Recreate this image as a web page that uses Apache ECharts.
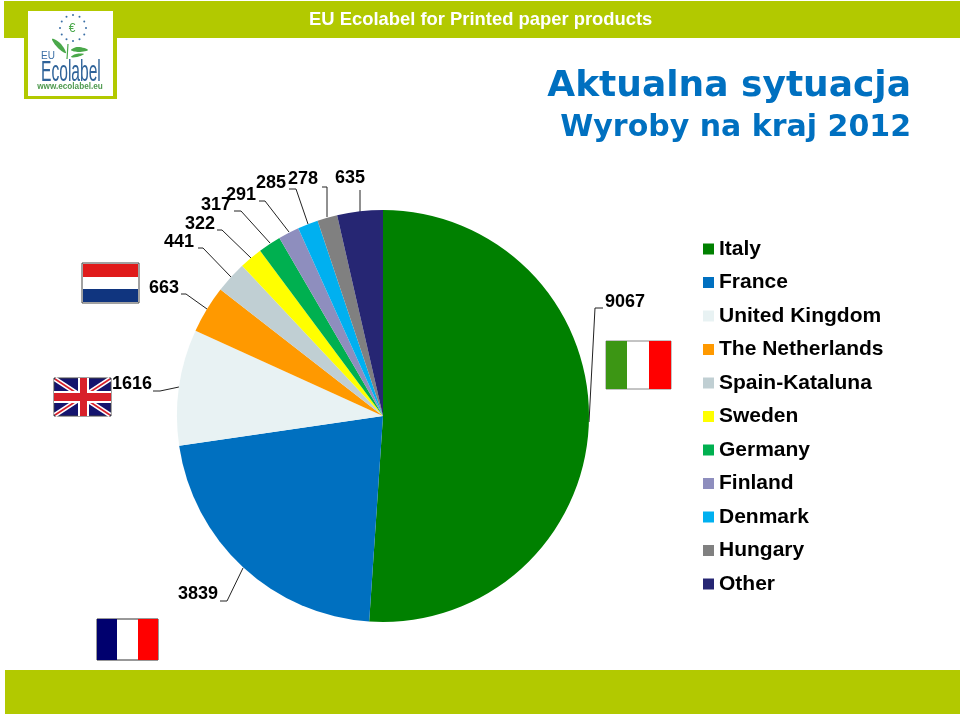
<!DOCTYPE html>
<html>
<head>
<meta charset="utf-8">
<title>Wyroby na kraj 2012</title>
<script src="https://cdn.jsdelivr.net/npm/echarts@6/dist/echarts.min.js"></script>
<style>
  html, body { margin: 0; padding: 0; background: #fff; }
  #chart { width: 960px; height: 716px; }
</style>
</head>
<body>
<div id="chart"></div>
<script>
var countries = ['Italy', 'France', 'United Kingdom', 'The Netherlands', 'Spain-Kataluna', 'Sweden', 'Germany', 'Finland', 'Denmark', 'Hungary', 'Other']
var products = [9067, 3839, 1616, 663, 441, 322, 317, 291, 285, 278, 635]
var sliceColors = ['#008000', '#0070c0', '#e8f2f3', '#ff9900', '#c0cfd3', '#ffff00', '#00b050', '#8e8ebe', '#00b0f0', '#808080', '#262673']

// label centre and leader line for each slice, placed by hand like the original
var labelSpots = [[625, 302], [198, 594], [132, 384], [164, 288], [179, 242], [200, 224], [216, 205], [241, 195], [271, 183], [303, 179], [350, 178]]
var leaders = [
  [[603, 308], [595, 308], [589, 422]],
  [[220, 601], [227, 601], [243, 568]],
  [[153, 391], [160, 391], [179, 387]],
  [[181, 294], [186, 294], [207, 309]],
  [[198, 248], [203, 248], [231, 277]],
  [[217, 230], [222, 230], [251, 258]],
  [[234, 211], [241, 211], [270, 243]],
  [[259, 201], [265, 201], [289, 232]],
  [[289, 189], [296, 189], [308, 224]],
  [[322, 187], [327, 187], [327, 217]],
  [[360, 190], [360, 190], [360, 212]]
]

var BAND = '#b2c900'
var FONT = '"Liberation Sans", Arial, sans-serif'

function box(x, y, w, h, fill, stroke) {
  return { type: 'rect', shape: { x: x, y: y, width: w, height: h }, style: { fill: fill, stroke: stroke || null, lineWidth: stroke ? 1 : 0 } }
}
function label(x, y, text, font, fill, align) {
  return { type: 'text', x: x, y: y, style: { text: text, font: font, fill: fill, align: align || 'left', verticalAlign: 'middle' } }
}
function line(x1, y1, x2, y2, color, w) {
  return { type: 'line', shape: { x1: x1, y1: y1, x2: x2, y2: y2 }, style: { stroke: color, lineWidth: w } }
}
function leaf(points) {
  return { type: 'polygon', shape: { points: points, smooth: 0.4 }, style: { fill: '#4aa84a' } }
}

function drawLogo() {
  var items = [
    box(24, 9, 93, 90, BAND),
    box(28, 11, 85, 85, '#fff')
  ]
  for (var i = 0; i < 12; i++) {
    var a = i * Math.PI / 6
    items.push({ type: 'circle', shape: { cx: 73 + 13 * Math.cos(a), cy: 28 + 13 * Math.sin(a), r: 1 }, style: { fill: '#3a6ea5' } })
  }
  items.push(label(72, 29, '€', '12px ' + FONT, '#4aa84a', 'center'))
  items.push(leaf([[52, 39], [60, 43], [66, 53], [58, 48]]))
  items.push(leaf([[71, 50], [78, 47], [88, 50], [79, 52]]))
  items.push(leaf([[71, 57], [76, 54], [84, 54], [77, 57]]))
  items.push(line(68, 44, 67, 59, '#4aa84a', 1.2))
  items.push(label(41, 56, 'EU', '10px ' + FONT, '#3a6ea5'))
  items.push({ type: 'text', x: 41, y: 73, scaleX: 0.52, style: { text: 'Ecolabel', font: '30px ' + FONT, fill: '#2f6399', verticalAlign: 'middle' } })
  items.push(label(70, 87, 'www.ecolabel.eu', 'bold 8.2px ' + FONT, '#4f9a4f', 'center'))
  return items
}

function drawFlags() {
  var items = []
  // Netherlands
  items.push(box(82, 263, 57, 40, '#fff', '#444'))
  items.push(box(83, 264, 55, 13, '#e01b1b'))
  items.push(box(83, 289, 55, 13, '#10357f'))
  // United Kingdom
  items.push(box(54, 378, 57, 38, '#14146e', '#444'))
  items.push(line(55, 379, 110, 415, '#fff', 5))
  items.push(line(110, 379, 55, 415, '#fff', 5))
  items.push(line(55, 379, 110, 415, '#d8202a', 1.6))
  items.push(line(110, 379, 55, 415, '#d8202a', 1.6))
  items.push(box(78, 378, 11, 38, '#fff'))
  items.push(box(54, 391, 57, 12, '#fff'))
  items.push(box(80, 378, 7, 38, '#d8202a'))
  items.push(box(54, 393, 57, 8, '#d8202a'))
  // Italy
  items.push(box(606, 341, 65, 48, '#fff', '#888'))
  items.push(box(606, 341, 21, 48, '#3c9614'))
  items.push(box(649, 341, 22, 48, '#ff0000'))
  // France
  items.push(box(97, 619, 61, 41, '#fff', '#333'))
  items.push(box(97, 619, 20, 41, '#00006e'))
  items.push(box(138, 619, 20, 41, '#ff0000'))
  return items
}

var chart = echarts.init(document.getElementById('chart'), null, { renderer: 'canvas' })

chart.setOption({
  animation: false,
  backgroundColor: '#fff',
  legend: {
    orient: 'vertical',
    left: 698,
    top: 232,
    itemWidth: 11,
    itemHeight: 11,
    itemGap: 9.5,
    icon: 'rect',
    selectedMode: false,
    data: countries,
    textStyle: { fontFamily: FONT, fontWeight: 'bold', fontSize: 21, lineHeight: 24, color: '#000' }
  },
  series: [{
    type: 'pie',
    center: [383, 416],
    radius: [0, 206],
    startAngle: 90,
    clockwise: true,
    silent: true,
    data: countries.map(function(name, i) {
      return { name: name, value: products[i], itemStyle: { color: sliceColors[i] } }
    }),
    label: {
      show: true,
      position: 'outside',
      formatter: '{c}',
      fontFamily: FONT,
      fontWeight: 'bold',
      fontSize: 18,
      color: '#000'
    },
    labelLine: { show: true, smooth: false, lineStyle: { color: '#222', width: 1 } },
    labelLayout: function(params) {
      var spot = labelSpots[params.dataIndex]
      return {
        x: spot[0],
        y: spot[1],
        align: 'center',
        verticalAlign: 'middle',
        labelLinePoints: leaders[params.dataIndex]
      }
    }
  }],
  graphic: [].concat(
    [
      box(4, 1, 956, 37, BAND),
      box(5, 670, 955, 44, BAND),
      label(309, 20, 'EU Ecolabel for Printed paper products', 'bold 18.4px ' + FONT, '#fff'),
      label(911, 87, 'Aktualna sytuacja', 'bold 36px "DejaVu Sans"', '#0070c0', 'right'),
      label(911, 128, 'Wyroby na kraj 2012', 'bold 30px "DejaVu Sans"', '#0070c0', 'right')
    ],
    drawLogo(),
    drawFlags()
  )
})
</script>
</body>
</html>
